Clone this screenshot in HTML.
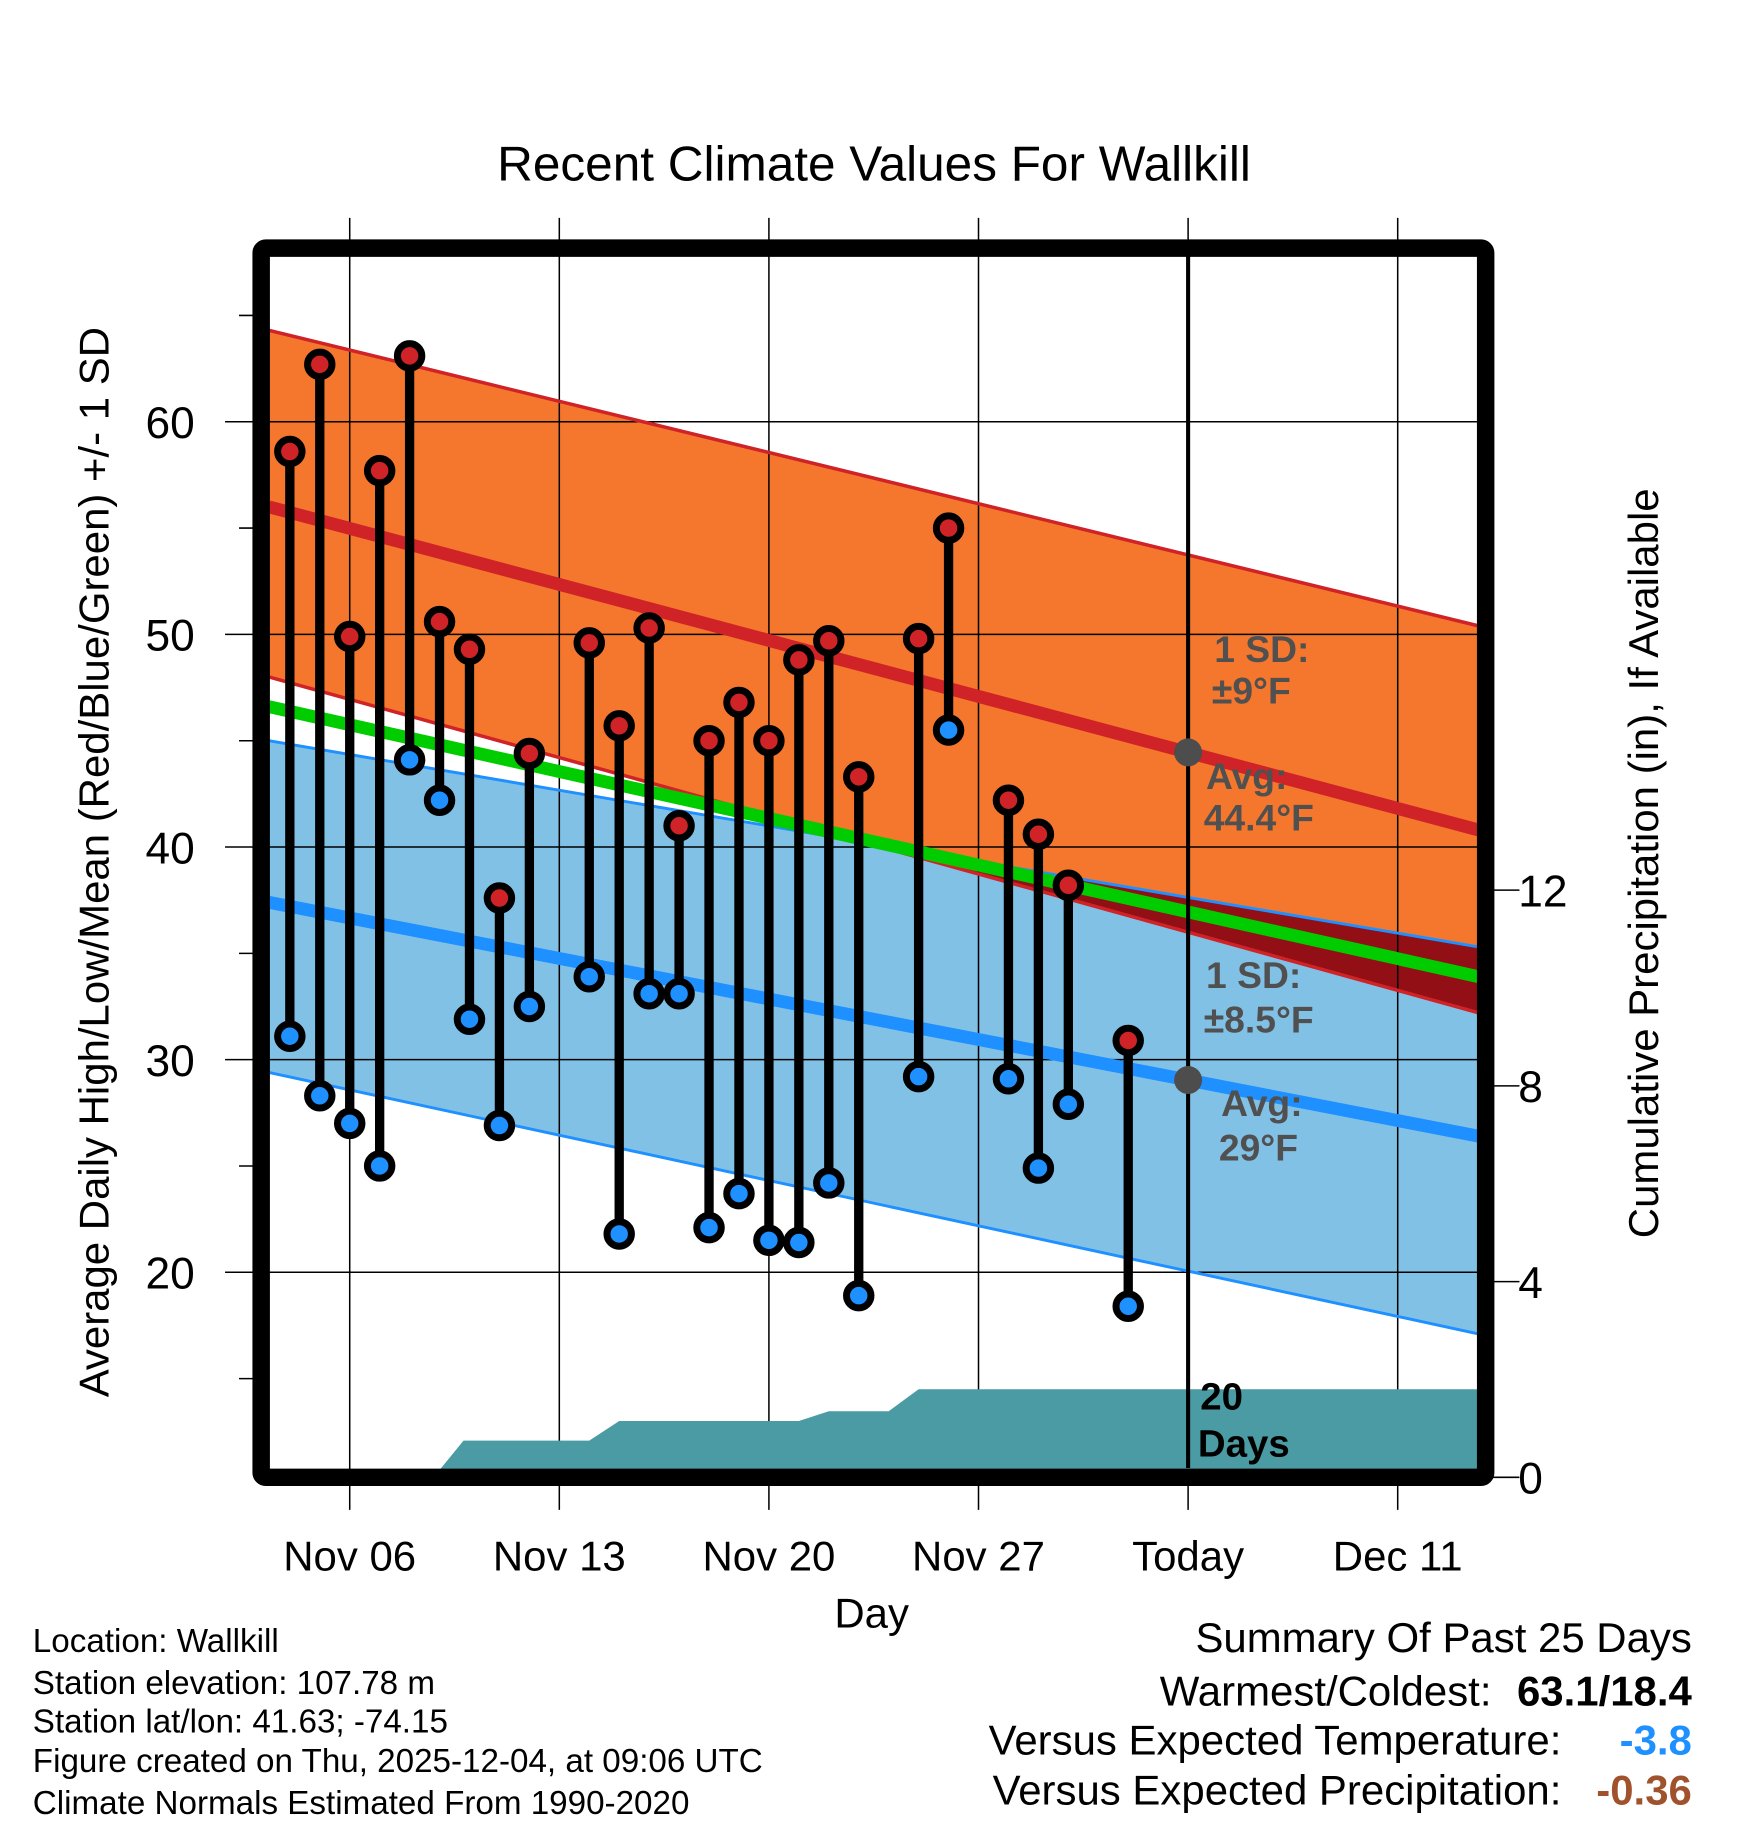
<!DOCTYPE html>
<html><head><meta charset="utf-8"><style>
html,body{margin:0;padding:0;background:#fff}
svg{display:block}
text{font-family:"Liberation Sans",Arial,sans-serif}
</style></head><body>
<svg id="chart" width="1748" height="1828" viewBox="0 0 1500 1569" xmlns="http://www.w3.org/2000/svg">
<g id="layer-bands"></g>
<g id="layer-grid"></g>
<g id="layer-lines"></g>
<g id="layer-precip"></g>
<g id="layer-stems"></g>
<g id="layer-frame"></g>
<g id="layer-text"></g>
</svg>
<script>
// ---- data ----
const obsDays = [-2,-1,0,1,2,3,4,5,6,8,9,10,11,12,13,14,15,16,17,19,20,22,23,24,26];
const highs = [58.6,62.7,49.9,57.7,63.1,50.6,49.3,37.6,44.4,49.6,45.7,50.3,41.0,45.0,46.8,45.0,48.8,49.7,43.3,49.8,55.0,42.2,40.6,38.2,30.9];
const lows  = [31.1,28.3,27.0,25.0,44.1,42.2,31.9,26.9,32.5,33.9,21.8,33.1,33.1,22.1,23.7,21.5,21.4,24.2,18.9,29.2,45.5,29.1,24.9,27.9,18.4];
const normStartEnd = [-2.7, 37.7];
const highAvg = [56.0, 40.8];
const highPlus = [64.3, 50.4];
const highMinus = [48.0, 32.2];
const lowAvg = [37.4, 26.4];
const lowPlus = [45.0, 35.3];
const lowMinus = [29.4, 17.1];
const meanAvg = [46.6, 33.9];
const precipDays = [-2.7,2.8,3.8,8,9,15,16,18,19,37.7];
const precipCum = [0,0,0.75,0.75,1.15,1.15,1.35,1.35,1.8,1.8];
const xTickDays = [0,7,14,21,28,35];
const xTickLabels = ["Nov 06","Nov 13","Nov 20","Nov 27","Today","Dec 11"];
const yTicks = [20,30,40,50,60];
const yMinor = [15,25,35,45,55,65];
const pTicks = [0,4,8,12];

// ---- axes ----
const X0=231,X1=1268,Y0=220,Y1=1260;
const xs = d => 300 + 25.7*d;
const ys = t => 362 + (60-t)*18.25;
const yp = p => 1268 - p*42;
const NS='http://www.w3.org/2000/svg';
function mk(parent, tag, attrs, name){
  const el=document.createElementNS(NS,tag);
  for(const k in attrs) el.setAttribute(k,attrs[k]);
  
  
  document.getElementById(parent).appendChild(el);
  return el;
}
function lin(arr, d){const f=(d-normStartEnd[0])/(normStartEnd[1]-normStartEnd[0]);return arr[0]+(arr[1]-arr[0])*f;}
function band(a,b){
  const d0=normStartEnd[0], d1=normStartEnd[1];
  return `${xs(d0)},${ys(a[0])} ${xs(d1)},${ys(a[1])} ${xs(d1)},${ys(b[1])} ${xs(d0)},${ys(b[0])}`;
}
mk('layer-bands','polygon',{points:band(lowPlus,lowMinus),fill:'#82c1e6'},'low-sd-band');
mk('layer-bands','polygon',{points:band(highPlus,highMinus),fill:'#f5772d'},'high-sd-band');
(function(){
  const dA=normStartEnd[0], dB=normStartEnd[1];
  const g0=highMinus[0]-lowPlus[0], g1=highMinus[1]-lowPlus[1];
  const dc = dA + (dB-dA)*g0/(g0-g1);
  const pts=`${xs(dc)},${ys(lin(lowPlus,dc))} ${xs(dB)},${ys(lowPlus[1])} ${xs(dB)},${ys(highMinus[1])}`;
  mk('layer-bands','polygon',{points:pts,fill:'#930f16'},'sd-overlap');
})();
xTickDays.forEach((d,i)=>{
  mk('layer-grid','line',{x1:xs(d),x2:xs(d),y1:187,y2:1296,stroke:'#000','stroke-width':1.3},'x-grid-line');
});
yTicks.forEach(t=>{
  mk('layer-grid','line',{x1:193,x2:X1,y1:ys(t),y2:ys(t),stroke:'#000','stroke-width':1.3},'y-grid-line');
});
yMinor.forEach(t=>{
  mk('layer-grid','line',{x1:205,x2:X0,y1:ys(t),y2:ys(t),stroke:'#000','stroke-width':1.3},'y-minor-tick');
});
pTicks.forEach(p=>{
  mk('layer-grid','line',{x1:1270,x2:1304,y1:yp(p),y2:yp(p),stroke:'#000','stroke-width':1.3},'precip-tick');
});
function nline(arr,color,w,name){
  mk('layer-lines','line',{x1:xs(normStartEnd[0]),y1:ys(arr[0]),x2:xs(normStartEnd[1]),y2:ys(arr[1]),stroke:color,'stroke-width':w},name);
}
nline(highPlus,'#cf2327',3,'high-plus-sd-line');
nline(lowPlus,'#1e90ff',2.5,'low-plus-sd-line');
nline(lowMinus,'#1e90ff',2.5,'low-minus-sd-line');
nline(highMinus,'#cf2327',3,'high-minus-sd-line');
nline(meanAvg,'#00cc00',11,'mean-avg-line');
nline(highAvg,'#cf2327',11,'high-avg-line');
nline(lowAvg,'#1e90ff',11,'low-avg-line');
(function(){
  let pts=`${xs(precipDays[0])},${yp(0)} `;
  precipDays.forEach((d,i)=>{pts+=`${xs(d)},${yp(precipCum[i])} `;});
  pts+=`${xs(precipDays[precipDays.length-1])},${yp(0)}`;
  mk('layer-precip','polygon',{points:pts,fill:'#4a9ba3'},'precip-area');
})();
mk('layer-stems','line',{x1:xs(28),x2:xs(28),y1:Y0,y2:Y1,stroke:'#000','stroke-width':3.5},'today-line');
mk('layer-stems','circle',{cx:xs(28),cy:ys(lin(highAvg,28)),r:12,fill:'#4d4d4d'},'today-high-avg-dot');
mk('layer-stems','circle',{cx:xs(28),cy:ys(lin(lowAvg,28)),r:12,fill:'#4d4d4d'},'today-low-avg-dot');
obsDays.forEach((d,i)=>{
  const x=xs(d);
  mk('layer-stems','line',{x1:x,x2:x,y1:ys(highs[i]),y2:ys(lows[i]),stroke:'#000','stroke-width':8},'temp-stem');
  mk('layer-stems','circle',{cx:x,cy:ys(highs[i]),r:10.5,fill:'#cf2327',stroke:'#000','stroke-width':6},'high-point');
  mk('layer-stems','circle',{cx:x,cy:ys(lows[i]),r:10.5,fill:'#1e90ff',stroke:'#000','stroke-width':6},'low-point');
});
mk('layer-frame','rect',{x:224,y:213,width:1051,height:1055,fill:'none',stroke:'#000','stroke-width':15,rx:4},'plot-frame');
function tx(x,y,s,str,name,extra){
  const el=mk('layer-text','text',Object.assign({x:x,y:y,'font-size':s},extra||{}),name);
  el.textContent=str; return el;
}
tx(750,155,42.5,'Recent Climate Values For Wallkill','chart-title',{'text-anchor':'middle'});
yTicks.forEach(t=>{tx(167,ys(t)+14,38,String(t),'y-tick-label',{'text-anchor':'end'});});
pTicks.forEach(p=>{tx(1303,yp(p)+14,38,String(p),'precip-tick-label');});
xTickDays.forEach((d,i)=>{tx(xs(d),1348,36,xTickLabels[i],'x-tick-label',{'text-anchor':'middle'});});
tx(748,1397,36,'Day','x-axis-title',{'text-anchor':'middle'});
tx(0,0,36,'Average Daily High/Low/Mean (Red/Blue/Green) +/- 1 SD','y-axis-title',{'text-anchor':'middle',transform:'translate(93,740) rotate(-90)'});
tx(0,0,36,'Cumulative Precipitation (in), If Available','y2-axis-title',{'text-anchor':'middle',transform:'translate(1423,741) rotate(-90)'});
const ann={fill:'#505050','font-weight':'bold'};
tx(1042,568,32,'1 SD:','high-sd-label',ann);
tx(1040,604,32,'±9°F','high-sd-value',ann);
tx(1035,677,32,'Avg:','high-avg-label',ann);
tx(1033,713,32,'44.4°F','high-avg-value',ann);
tx(1035,848,32,'1 SD:','low-sd-label',ann);
tx(1033,886,32,'±8.5°F','low-sd-value',ann);
tx(1048,958,32,'Avg:','low-avg-label',ann);
tx(1046,996,32,'29°F','low-avg-value',ann);
tx(1030,1210,33,'20','precip-days-number',{'font-weight':'bold'});
tx(1028,1250,33,'Days','precip-days-label',{'font-weight':'bold'});
const info=['Location: Wallkill','Station elevation: 107.78 m','Station lat/lon: 41.63; -74.15','Figure created on Thu, 2025-12-04, at 09:06 UTC','Climate Normals Estimated From 1990-2020'];
const infoY=[1418,1454,1487,1521,1557];
info.forEach((s,i)=>tx(28,infoY[i],28.5,s,'station-info-line'));
tx(1452,1418,36,'Summary Of Past 25 Days','summary-title',{'text-anchor':'end'});
tx(1280,1464,36,'Warmest/Coldest:','warmest-coldest-label',{'text-anchor':'end'});
tx(1452,1464,36,'63.1/18.4','warmest-coldest-value',{'text-anchor':'end','font-weight':'bold'});
tx(1340,1506,36,'Versus Expected Temperature:','temp-anomaly-label',{'text-anchor':'end'});
tx(1452,1506,36,'-3.8','temp-anomaly-value',{'text-anchor':'end','font-weight':'bold',fill:'#1e90ff'});
tx(1340,1549,36,'Versus Expected Precipitation:','precip-anomaly-label',{'text-anchor':'end'});
tx(1452,1549,36,'-0.36','precip-anomaly-value',{'text-anchor':'end','font-weight':'bold',fill:'#a0522d'});
</script>
</body></html>
